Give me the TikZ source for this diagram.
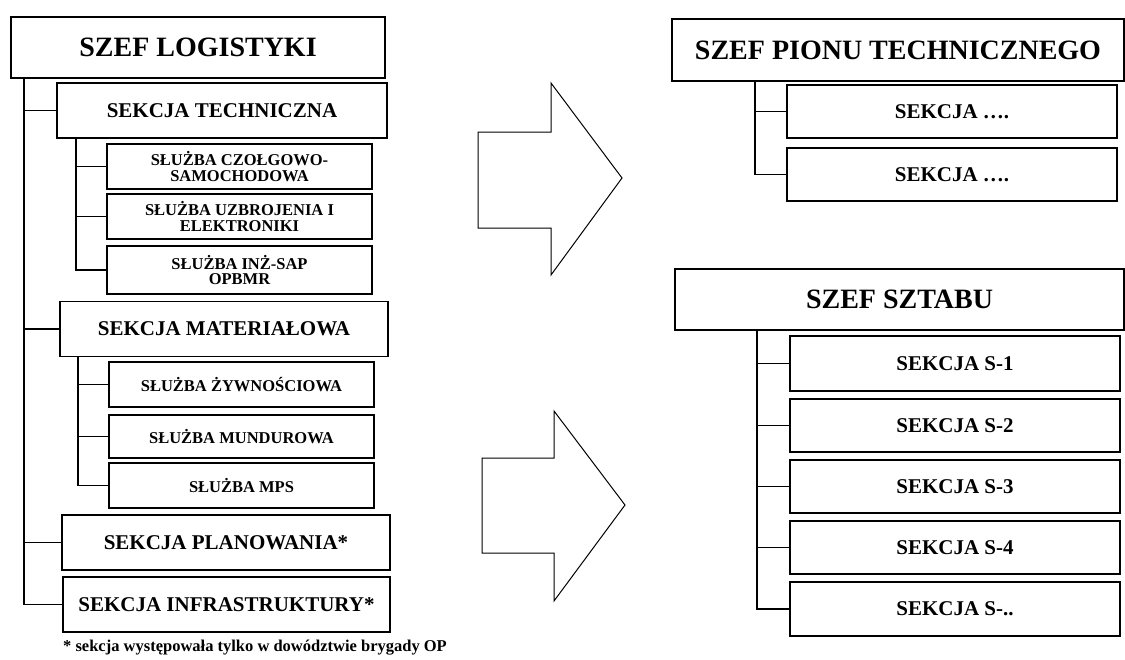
\documentclass[tikz,border=0pt]{standalone}
\usepackage{fontspec}
\setmainfont{Liberation Serif}

\begin{document}
\begin{tikzpicture}[x=1pt, y=-1pt,
  chief/.style={draw, line width=1.9pt, minimum height=61pt, inner sep=0pt,
                font=\fontsize{28}{30}\selectfont\bfseries},
  sect/.style={draw, line width=1.9pt, minimum width=328pt, minimum height=55pt, inner sep=0pt,
               font=\fontsize{21}{22}\selectfont\bfseries},
  sub/.style={draw, line width=1.9pt, minimum width=330pt, minimum height=53pt, inner sep=0pt,
              font=\fontsize{21}{22}\selectfont\bfseries},
  serv/.style={draw, line width=1.5pt, minimum width=265pt, minimum height=45pt, inner sep=0pt,
               align=center, font=\fontsize{16.5}{15.5}\selectfont\bfseries},
  wire/.style={line width=1.3pt},
  bigarrow/.style={draw, line width=1pt, line join=miter},
  footnote/.style={anchor=west, inner sep=0pt, font=\fontsize{16.5}{18}\selectfont\bfseries},
]
\path[use as bounding box, fill=white] (0,0) rectangle (1125,659);

% lewa strona: pion logistyki
\node[chief, minimum width=374pt] (logi) at (198,47.5) {SZEF LOGISTYKI};
\node[sect, minimum width=330pt] (tech) at (222,110.5) {SEKCJA TECHNICZNA};
\node[serv] (czol) at (239.5,166.5) {SŁUŻBA CZOŁGOWO-\\SAMOCHODOWA};
\node[serv] (uzbr) at (239.5,216.5) {SŁUŻBA UZBROJENIA I\\ELEKTRONIKI};
\node[serv, minimum height=48pt] (inz) at (239.5,270) {SŁUŻBA INŻ-SAP\\OPBMR};
\node[sect] (mat) at (224,329) {SEKCJA MATERIAŁOWA};
\node[serv] (zyw) at (241.5,384.5) {SŁUŻBA ŻYWNOŚCIOWA};
\node[serv, minimum height=43pt] (mund) at (241.5,436.5) {SŁUŻBA MUNDUROWA};
\node[serv] (mps) at (241.5,485.5) {SŁUŻBA MPS};
\node[sect] (plan) at (226,542.5) {SEKCJA PLANOWANIA*};
\node[sect, minimum width=327pt] (infra) at (226.5,604.5) {SEKCJA INFRASTRUKTURY*};
\node[footnote] (note) at (63,648) {* sekcja występowała tylko w dowództwie brygady OP};

\draw[wire] ([xshift=14pt]logi.south west) |- (tech.west);
\draw[wire] ([xshift=14pt]logi.south west) |- (mat.west);
\draw[wire] ([xshift=14pt]logi.south west) |- (plan.west);
\draw[wire] ([xshift=14pt]logi.south west) |- (infra.west);
\draw[wire] ([xshift=20pt]tech.south west) |- (czol.west);
\draw[wire] ([xshift=20pt]tech.south west) |- (uzbr.west);
\draw[wire] ([xshift=20pt]tech.south west) |- (inz.west);
\draw[wire] ([xshift=19pt]mat.south west) |- (zyw.west);
\draw[wire] ([xshift=19pt]mat.south west) |- (mund.west);
\draw[wire] ([xshift=19pt]mat.south west) |- (mps.west);

% strzalki przejscia
\draw[bigarrow] (478,132) -- (551,132) -- (551,83) -- (622,178) -- (551,275) -- (551,228) -- (478,228) -- cycle;
\draw[bigarrow] (482,458) -- (554,458) -- (554,411) -- (625,505) -- (554,601) -- (554,553) -- (482,553) -- cycle;

% prawa strona: nowa struktura
\node[chief, minimum width=452pt, minimum height=62pt] (pion) at (898,50) {SZEF PIONU TECHNICZNEGO};
\node[sub] (sek1) at (952,111.5) {SEKCJA ….};
\node[sub] (sek2) at (952,174.5) {SEKCJA ….};
\node[chief, minimum width=449pt] (sztab) at (899.5,299.5) {SZEF SZTABU};
\node[sub, minimum height=55pt] (s1) at (955,363.5) {SEKCJA S-1};
\node[sub] (s2) at (955,425.5) {SEKCJA S-2};
\node[sub] (s3) at (955,486.5) {SEKCJA S-3};
\node[sub] (s4) at (955,547.5) {SEKCJA S-4};
\node[sub, minimum height=54pt] (sx) at (955,609) {SEKCJA S-..};

\draw[wire] ([xshift=84pt]pion.south west) |- (sek1.west);
\draw[wire] ([xshift=84pt]pion.south west) |- (sek2.west);
\draw[wire] ([xshift=83pt]sztab.south west) |- (s1.west);
\draw[wire] ([xshift=83pt]sztab.south west) |- (s2.west);
\draw[wire] ([xshift=83pt]sztab.south west) |- (s3.west);
\draw[wire] ([xshift=83pt]sztab.south west) |- (s4.west);
\draw[wire] ([xshift=83pt]sztab.south west) |- (sx.west);
\end{tikzpicture}
\end{document}
